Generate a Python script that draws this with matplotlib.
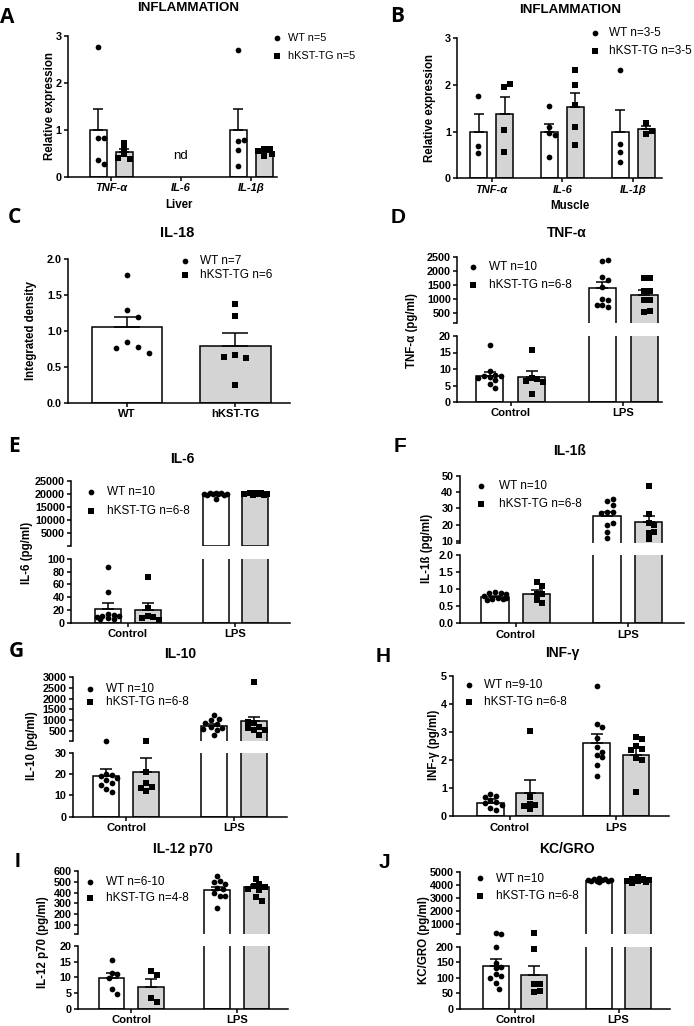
import numpy as np
import matplotlib
matplotlib.use('Agg')
import matplotlib.pyplot as plt

plt.rcParams['font.family'] = ['Liberation Sans', 'DejaVu Sans']
plt.rcParams['font.weight'] = 'bold'

nan = np.nan

# ---------------- data ----------------
# A : liver qPCR
A_categories = ['TNF-α', 'IL-6', 'IL-1β']
A_wt_mean = [1.0, nan, 1.0]
A_wt_sem = [0.45, nan, 0.44]
A_tg_mean = [0.52, nan, 0.52]
A_tg_sem = [0.08, nan, 0.05]
A_wt_points = [[2.77, 0.82, 0.83, 0.36, 0.28], [], [2.70, 0.75, 0.78, 0.57, 0.23]]
A_tg_points = [[0.72, 0.60, 0.48, 0.38, 0.40], [], [0.60, 0.58, 0.55, 0.45, 0.48]]
A_legend = ['WT n=5', 'hKST-TG n=5']

# B : muscle qPCR
B_categories = ['TNF-α', 'IL-6', 'IL-1β']
B_wt_mean = [1.0, 1.0, 1.0]
B_wt_sem = [0.38, 0.17, 0.46]
B_tg_mean = [1.38, 1.53, 1.05]
B_tg_sem = [0.36, 0.30, 0.08]
B_wt_points = [[1.77, 0.69, 0.54], [1.55, 1.10, 0.97, 0.92, 0.46], [2.33, 0.74, 0.56, 0.34]]
B_tg_points = [[1.95, 2.03, 1.03, 0.56], [2.32, 1.99, 1.57, 1.11, 0.71], [1.18, 0.95, 1.02]]
B_legend = ['WT n=3-5', 'hKST-TG n=3-5']

# C : IL-18
C_groups = ['WT', 'hKST-TG']
C_mean = [1.05, 0.79]
C_sem = [0.15, 0.18]
C_points = [[1.78, 1.29, 1.19, 0.84, 0.78, 0.76, 0.70], [1.38, 1.21, 0.66, 0.63, 0.635, 0.25]]
C_legend = ['WT n=7', 'hKST-TG n=6']

conditions = ['Control', 'LPS']

D_wt_mean = [8.0, 1385]
D_wt_sem = [1.1, 225]
D_tg_mean = [7.5, 1130]
D_tg_sem = [1.9, 190]
D_wt_points = [[17.2, 9.4, 8.3, 8.0, 7.8, 7.6, 7.3, 6.8, 5.4, 4.2],
               [2350, 2380, 1790, 1680, 1420, 990, 970, 790, 740, 790]]
D_tg_points = [[15.7, 7.2, 6.9, 6.4, 6.0, 2.3],
               [1740, 1760, 1290, 1300, 970, 970, 560, 580]]
D_legend = ['WT n=10', 'hKST-TG n=6-8']

E_wt_mean = [21, 20000]
E_wt_sem = [9.5, 150]
E_tg_mean = [20, 20000]
E_tg_sem = [11, 120]
E_wt_points = [[87, 47.6, 14, 12, 11, 10, 9, 8, 6, 5.8],
               [20400, 20300, 20200, 20100, 20000, 19900, 19800, 19700, 19500, 18200]]
E_tg_points = [[71, 22.5, 10.5, 9, 7, 5],
               [20400, 20300, 20200, 20100, 20000, 19900, 19700, 19500]]
E_legend = ['WT n=10', 'hKST-TG n=6-8']

F_wt_mean = [0.76, 25.3]
F_wt_sem = [0.035, 2.6]
F_tg_mean = [0.87, 21.4]
F_tg_sem = [0.11, 4.0]
F_wt_points = [[0.91, 0.90, 0.88, 0.85, 0.80, 0.75, 0.72, 0.70, 0.68, 0.73],
               [34.5, 35.7, 32, 28, 27.6, 27, 19.8, 20.8, 15.7, 12]]
F_tg_points = [[1.2, 1.1, 0.85, 0.85, 0.68, 0.6],
               [43.9, 26.3, 20.8, 19.8, 14.7, 15.7, 11]]
F_legend = ['WT n=10', 'hKST-TG n=6-8']

G_wt_mean = [19.2, 720]
G_wt_sem = [3.1, 100]
G_tg_mean = [21.1, 960]
G_tg_sem = [6.6, 175]
G_wt_points = [[38, 20, 19.5, 19, 18, 17, 16, 15, 13, 11.5],
               [1250, 1050, 1000, 850, 800, 700, 620, 600, 550, 320]]
G_tg_points = [[38, 20.8, 15.6, 14, 13.6, 12.2],
               [2760, 860, 670, 550, 620, 330, 560, 900]]
G_legend = ['WT n=10', 'hKST-TG n=6-8']

H_wt_mean = [0.46, 2.6]
H_wt_sem = [0.14, 0.33]
H_tg_mean = [0.83, 2.19]
H_tg_sem = [0.47, 0.25]
H_wt_points = [[0.80, 0.74, 0.70, 0.58, 0.52, 0.46, 0.40, 0.29, 0.23],
               [4.65, 3.3, 3.2, 2.79, 2.46, 2.2, 2.1, 2.3, 1.83, 1.42]]
H_tg_points = [[3.05, 0.67, 0.45, 0.42, 0.38, 0.25],
               [2.81, 2.75, 2.49, 2.39, 2.37, 2.07, 1.99, 0.86]]
H_legend = ['WT n=9-10', 'hKST-TG n=6-8']

I_wt_mean = [9.7, 420]
I_wt_sem = [1.8, 33]
I_tg_mean = [7.0, 450]
I_tg_sem = [2.4, 18]
I_wt_points = [[15.6, 11.5, 11.0, 9.8, 6.2, 4.7],
               [555, 510, 495, 480, 445, 435, 400, 365, 365, 255]]
I_tg_points = [[12.1, 10.7, 3.3, 2.2],
               [525, 480, 460, 450, 435, 420, 360, 325]]
I_legend = ['WT n=6-10', 'hKST-TG n=4-8']

J_wt_mean = [137, 4300]
J_wt_sem = [24, 40]
J_tg_mean = [108, 4280]
J_tg_sem = [29, 50]
J_wt_points = [[245, 200, 148, 133, 130, 112, 107, 100, 82, 65],
               [4550, 4500, 4450, 4420, 4400, 4380, 4350, 4330, 4300, 4250]]
J_tg_points = [[240, 191, 78.5, 78.5, 53, 56],
               [4600, 4500, 4450, 4400, 4350, 4300, 4250, 4150]]
J_legend = ['WT n=10', 'hKST-TG n=6-8']

# ---------------- figure helpers ----------------
W, H = 694, 1026
fig = plt.figure(figsize=(W / 100, H / 100), dpi=100)

LW = 1.1
WT_COLOR = 'white'
TG_COLOR = '#d4d4d4'
S_O = 17
S_S = 15
TICK_FS = 7.8


def rect(l, t, r, b):
    return [l / W, 1 - b / H, (r - l) / W, (b - t) / H]


def fx(x):
    return x / W


def fy(y):
    return 1 - y / H


def style(ax, show_x=True):
    ax.set_facecolor('none')
    ax.spines['top'].set_visible(False)
    ax.spines['right'].set_visible(False)
    ax.spines['left'].set_linewidth(LW)
    if show_x:
        ax.spines['bottom'].set_linewidth(LW)
    else:
        ax.spines['bottom'].set_visible(False)
        ax.tick_params(axis='x', bottom=False, labelbottom=False)
    ax.tick_params(axis='both', direction='out', length=3, width=LW,
                   labelsize=TICK_FS, pad=1.5)


def swarm_x(ax, xc, vals, step=5.6, max_half=13.0):
    """Beeswarm-like horizontal spread in pixel space, limited to the bar width."""
    placed = []
    xs = []
    inv = ax.transData.inverted()
    cands = [0.0]
    k = 1
    while k * step / 2 <= max_half:
        cands += [k * step / 2, -k * step / 2]
        k += 1
    for v in vals:
        px, py = ax.transData.transform((xc, v))
        best, best_d = 0.0, -1
        chosen = None
        for dx in cands:
            d = min([((px + dx - qx) ** 2 + (py - qy) ** 2) ** 0.5 for qx, qy in placed] or [1e9])
            if d >= step * 0.99:
                chosen = dx
                break
            if d > best_d:
                best, best_d = dx, d
        if chosen is None:
            chosen = best
        placed.append((px + chosen, py))
        xs.append(inv.transform((px + chosen, py))[0])
    return xs


def draw_groups(ax, off, w, cap, wt_mean, wt_sem, tg_mean, tg_sem, wt_pts, tg_pts):
    lo, hi = ax.get_ylim()
    groups = [(-off, wt_mean, wt_sem, wt_pts, WT_COLOR, 'o', S_O),
              (off, tg_mean, tg_sem, tg_pts, TG_COLOR, 's', S_S)]
    half_px = (ax.transData.transform((w, 0))[0] - ax.transData.transform((0, 0))[0]) / 2
    for i in range(len(wt_mean)):
        for xo, means, sems, pts, col, mk, sz in groups:
            m = means[i]
            if np.isnan(m):
                continue
            x = i + xo
            if m > lo:
                ax.bar(x, m, w, color=col, edgecolor='black', linewidth=LW, zorder=1)
            if lo < m < hi:
                ax.errorbar([x], [m], yerr=[[0], [sems[i]]], fmt='none', ecolor='black',
                            elinewidth=LW, capsize=cap, capthick=LW, zorder=2)
            vis = [v for v in pts[i] if lo <= v <= hi]
            if vis:
                xs = swarm_x(ax, x, vis, max_half=half_px)
                ax.scatter(xs, vis, marker=mk, s=sz, c='black', linewidths=0,
                           zorder=3, clip_on=False)


def add_legend(ax, labels, mx, my1, my2, gap, fs=8.5):
    h1 = ax.scatter([], [], marker='o', s=S_O, c='black', linewidths=0)
    h2 = ax.scatter([], [], marker='s', s=S_S, c='black', linewidths=0)
    fs_px = fs * 100 / 72
    pitch = my2 - my1
    ls = max((pitch - 1.16 * fs_px) / fs_px, 0.05)
    ax.legend([h1, h2], labels, loc='center left',
              bbox_to_anchor=(fx(mx - 0.5 * fs_px), fy((my1 + my2) / 2)),
              bbox_transform=fig.transFigure, frameon=False, borderpad=0,
              borderaxespad=0, handlelength=1.0, handletextpad=gap / fs_px - 0.5,
              labelspacing=ls, prop={'size': fs, 'weight': 'normal'}, scatterpoints=1)


def set_x(ax, L, R, c0, s, labels, italic=False, show=True):
    ax.set_xlim((L - c0) / s, (R - c0) / s)
    if show:
        ax.set_xticks(range(len(labels)))
        ax.set_xticklabels(labels, fontsize=TICK_FS + (0.2 if italic else 0.3),
                           fontstyle='italic' if italic else 'normal')


def simple_panel(L, T, R, B, c0, s, off, w, cap, ylim, yticks, labels, data, fmt='%g', italic=False):
    ax = fig.add_axes(rect(L, T, R, B))
    style(ax)
    ax.set_ylim(*ylim)
    ax.set_yticks(yticks)
    ax.set_yticklabels([fmt % t for t in yticks])
    set_x(ax, L, R, c0, s, labels, italic)
    draw_groups(ax, off / s, w / s, cap, *data)
    return ax


def broken_panel(L, R, top_box, bot_box, c0, s, off, w, cap, ylim_top, ticks_top,
                 ylim_bot, ticks_bot, data, fmt_bot='%g'):
    axt = fig.add_axes(rect(L, top_box[0], R, top_box[1]))
    axb = fig.add_axes(rect(L, bot_box[0], R, bot_box[1]))
    style(axt, show_x=False)
    style(axb)
    axt.set_ylim(*ylim_top)
    axt.set_yticks([ylim_top[0]] + list(ticks_top))
    axt.set_yticklabels([''] + ['%g' % t for t in ticks_top])
    axb.set_ylim(*ylim_bot)
    axb.set_yticks(ticks_bot)
    axb.set_yticklabels([fmt_bot % t for t in ticks_bot])
    set_x(axt, L, R, c0, s, conditions, show=False)
    set_x(axb, L, R, c0, s, conditions)
    draw_groups(axt, off / s, w / s, cap, *data)
    draw_groups(axb, off / s, w / s, cap, *data)
    return axt, axb


def title(x, y, t, fs=10):
    fig.text(fx(x), fy(y), t, ha='center', va='baseline', fontsize=fs, fontweight='bold')


def letter(x, y, t, family='Liberation Sans'):
    fig.text(fx(x), fy(y), t, ha='left', va='baseline', fontsize=15, fontweight='bold',
             family=[family, 'DejaVu Sans'])


def ylab(x, y, t, fs=8.3):
    fig.text(fx(x), fy(y), t, ha='center', va='center', rotation=90, fontsize=fs,
             fontweight='bold')


# ---------------- Panel A ----------------
axA = simple_panel(68, 35.7, 277, 176.7, 111, 70, 13, 17, 3.8, (0, 3), [0, 1, 2, 3],
                   A_categories,
                   (A_wt_mean, A_wt_sem, A_tg_mean, A_tg_sem, A_wt_points, A_tg_points),
                   italic=True)
axA.text(1, 0.44, 'nd', ha='center', va='center', fontsize=9.5, fontweight='normal')
add_legend(axA, A_legend, 277, 37, 57, 10.5, fs=7.8)
letter(0, 23.3, 'A', 'Open Sans')
title(188, 11, 'INFLAMMATION', 9.6)
ylab(50, 106, 'Relative expression')
fig.text(fx(179), fy(208), 'Liver', ha='center', va='baseline', fontsize=8.3, fontweight='bold')

# ---------------- Panel B ----------------
axB = simple_panel(457, 38.3, 662, 178.3, 491.5, 70.75, 13, 17, 3.8, (0, 3), [0, 1, 2, 3],
                   B_categories,
                   (B_wt_mean, B_wt_sem, B_tg_mean, B_tg_sem, B_wt_points, B_tg_points),
                   italic=True)
add_legend(axB, B_legend, 595.3, 32, 52, 13.3)
letter(390.3, 21.7, 'B', 'Open Sans')
title(570, 13.3, 'INFLAMMATION', 9.6)
ylab(430, 107.6, 'Relative expression')
fig.text(fx(570.3), fy(209), 'Muscle', ha='center', va='baseline', fontsize=8.3, fontweight='bold')

# ---------------- Panel C ----------------
axC = fig.add_axes(rect(68, 259.3, 290, 402.7))
style(axC)
axC.set_ylim(0, 2)
axC.set_yticks([0, 0.5, 1.0, 1.5, 2.0])
axC.set_yticklabels(['%.1f' % t for t in [0, 0.5, 1.0, 1.5, 2.0]])
set_x(axC, 68, 290, 127, 108.3, C_groups)
cw = 70.7 / 108.3
for i, (col, mk, sz) in enumerate([(WT_COLOR, 'o', S_O), (TG_COLOR, 's', S_S)]):
    axC.bar(i, C_mean[i], cw, color=col, edgecolor='black', linewidth=LW, zorder=1)
    axC.errorbar([i], [C_mean[i]], yerr=[[0], [C_sem[i]]], fmt='none', ecolor='black',
                 elinewidth=LW, capsize=9.6, capthick=LW, zorder=2)
    xs = swarm_x(axC, i, C_points[i], step=11, max_half=30)
    axC.scatter(xs, C_points[i], marker=mk, s=sz, c='black', linewidths=0, zorder=3, clip_on=False)
add_legend(axC, C_legend, 185, 260, 276, 15)
letter(7.3, 223.3, 'C', 'Open Sans')
title(177, 236.7, 'IL-18', 10.5)
ylab(30.7, 331, 'Integrated density')

# ---------------- Panel D ----------------
axDt, axDb = broken_panel(457, 662, (256.7, 322.7), (336, 402), 510.7, 112.5, 21, 27.3, 4.5,
                          (168, 2500), [500, 1000, 1500, 2000, 2500],
                          (0, 20), [0, 5, 10, 15, 20],
                          (D_wt_mean, D_wt_sem, D_tg_mean, D_tg_sem, D_wt_points, D_tg_points))
add_legend(axDt, D_legend, 473, 266, 286, 15.7)
letter(390.3, 223.3, 'D')
title(567, 236.7, 'TNF-α')
ylab(412, 330, 'TNF-α (pg/ml)')

# ---------------- Panel E ----------------
axEt, axEb = broken_panel(71, 290, (480.7, 546.2), (559, 622.7), 127.9, 107.5, 19.9, 26, 4.5,
                          (100, 25000), [5000, 10000, 15000, 20000, 25000],
                          (0, 100), [0, 20, 40, 60, 80, 100],
                          (E_wt_mean, E_wt_sem, E_tg_mean, E_tg_sem, E_wt_points, E_tg_points))
add_legend(axEt, E_legend, 90.7, 491, 511.7, 16.7)
letter(8.3, 451.7, 'E', 'Open Sans')
title(182, 462.7, 'IL-6')
ylab(26.7, 553, 'IL-6 (pg/ml)')

# ---------------- Panel F ----------------
axFt, axFb = broken_panel(459.7, 683.7, (475.7, 543.3), (555, 623.3), 515.8, 112, 20.8, 27.3, 4.5,
                          (8.6, 50), [10, 20, 30, 40, 50],
                          (0, 2), [0, 0.5, 1.0, 1.5, 2.0],
                          (F_wt_mean, F_wt_sem, F_tg_mean, F_tg_sem, F_wt_points, F_tg_points),
                          fmt_bot='%.1f')
add_legend(axFt, F_legend, 481, 485, 505, 17.7)
letter(393.7, 451.7, 'F')
title(570, 455, 'IL-1ß')
ylab(427, 548, 'IL-1ß (pg/ml)')

# ---------------- Panel G ----------------
axGt, axGb = broken_panel(72.7, 287, (677.3, 741), (752.7, 816.7), 126.3, 107.4, 20, 26, 4.5,
                          (30, 3000), [500, 1000, 1500, 2000, 2500, 3000],
                          (0, 30), [0, 10, 20, 30],
                          (G_wt_mean, G_wt_sem, G_tg_mean, G_tg_sem, G_wt_points, G_tg_points))
add_legend(axGt, G_legend, 90, 688.3, 703.3, 16)
letter(8.3, 656.7, 'G', 'Open Sans')
title(180, 658.3, 'IL-10')
ylab(31.7, 746, 'IL-10 (pg/ml)')

# ---------------- Panel H ----------------
axH = simple_panel(453, 676, 668.7, 816.3, 510, 106.4, 19.7, 26.7, 4.5, (0, 5), [0, 1, 2, 3, 4, 5],
                   conditions,
                   (H_wt_mean, H_wt_sem, H_tg_mean, H_tg_sem, H_wt_points, H_tg_points))
add_legend(axH, H_legend, 468.7, 684.3, 703.3, 15.7)
letter(375.3, 661.7, 'H')
title(562, 657, 'INF-γ')
ylab(434.3, 745, 'INF-γ (pg/ml)')

# ---------------- Panel I ----------------
axIt, axIb = broken_panel(78, 288.3, (870.7, 934), (946, 1008.7), 131.4, 105.3, 19.7, 25.3, 4.5,
                          (20, 600), [100, 200, 300, 400, 500, 600],
                          (0, 20), [0, 5, 10, 15, 20],
                          (I_wt_mean, I_wt_sem, I_tg_mean, I_tg_sem, I_wt_points, I_tg_points))
add_legend(axIt, I_legend, 90, 881, 899.3, 16)
letter(15, 866.7, 'I')
title(183, 852.7, 'IL-12 p70')
ylab(43.3, 941.7, 'IL-12 p70 (pg/ml)')

# ---------------- Panel J ----------------
axJt, axJb = broken_panel(460.3, 670.3, (872.3, 934), (946.7, 1008.7), 515, 103.5, 19.2, 25.7, 4.5,
                          (200, 5000), [1000, 2000, 3000, 4000, 5000],
                          (0, 200), [0, 50, 100, 150, 200],
                          (J_wt_mean, J_wt_sem, J_tg_mean, J_tg_sem, J_wt_points, J_tg_points))
add_legend(axJt, J_legend, 480.3, 877.7, 897.3, 16)
letter(378.7, 868.3, 'J')
title(567, 853.3, 'KC/GRO')
ylab(423.7, 940, 'KC/GRO (pg/ml)')

fig.savefig('out.png', dpi=100, facecolor='white')
